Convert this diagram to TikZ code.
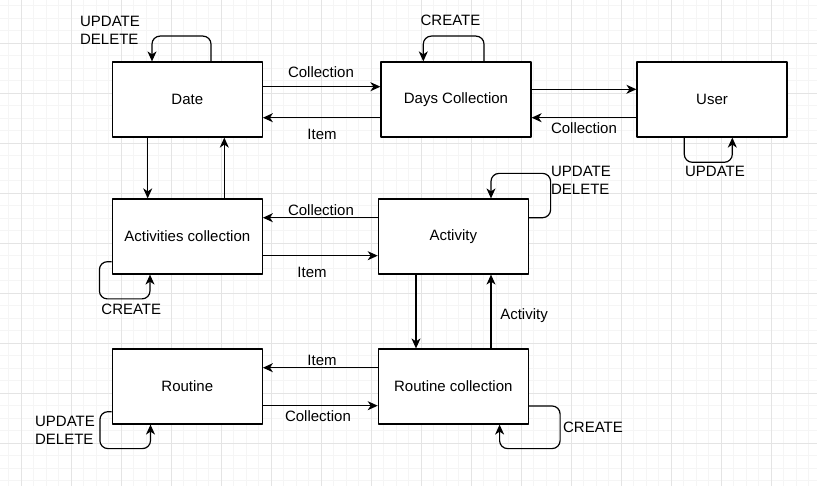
\documentclass[tikz,border=0pt]{standalone}
\usepackage{fontspec}
\setmainfont{Liberation Sans}
\usetikzlibrary{arrows.meta,calc}
\definecolor{gridminor}{HTML}{F5F5F5}
\definecolor{gridmajor}{HTML}{E4E4E4}
\tikzset{
  every picture/.style={line join=round, >={Stealth[length=10pt,width=9pt,inset=3pt]}},
  box/.style={draw, fill=white, line width=1.2pt, minimum width=150pt, minimum height=75pt, inner sep=0pt, font=\fontsize{15}{18}\selectfont},
  lbl/.style={inner sep=0pt, align=left, font=\fontsize{15}{17.5}\selectfont},
  conn/.style={->, line width=1.2pt},
  selfloop/.style={->, line width=1.2pt, rounded corners=8pt},
}

\begin{document}
\begin{tikzpicture}[x=1pt,y=-1pt]
\useasboundingbox (0,0) rectangle (817,486);
\fill[white] (0,0) rectangle (817,486);
\foreach \x in {8.5,21,...,817} \draw[gridminor,line width=1pt] (\x,0) -- (\x,486);
\foreach \y in {5.8,18.3,...,486} \draw[gridminor,line width=1pt] (0,\y) -- (817,\y);
\foreach \x in {21,71,...,817} \draw[gridmajor,line width=1pt] (\x,0) -- (\x,486);
\foreach \y in {43.3,93.3,...,486} \draw[gridmajor,line width=1pt] (0,\y) -- (817,\y);

\node[box] (date) at (187.3,99.5) {Date};
\node[box] (days) at (456,99.5) {Days Collection};
\node[box] (user) at (712,99.5) {User};
\node[box] (actcoll) at (187.3,236.5) {Activities collection};
\node[box] (activity) at (453.3,236.5) {Activity};
\node[box] (routine) at (187.3,386.5) {Routine};
\node[box] (routcoll) at (453.3,386.5) {Routine collection};

\draw[conn] ($(date.east)+(0,-12.8)$) -- ($(days.west)+(0,-12.8)$);
\draw[conn] ($(days.west)+(0,18.2)$) -- ($(date.east)+(0,18.2)$);
\draw[conn] ($(days.east)+(0,-10.2)$) -- ($(user.west)+(0,-10.2)$);
\draw[conn] ($(user.west)+(0,18.2)$) -- ($(days.east)+(0,18.2)$);
\draw[conn] ($(date.south)+(-39.6,0)$) -- ($(actcoll.north)+(-39.6,0)$);
\draw[conn] ($(actcoll.north)+(37,0)$) -- ($(date.south)+(37,0)$);
\draw[conn] ($(activity.west)+(0,-18.8)$) -- ($(actcoll.east)+(0,-18.8)$);
\draw[conn] ($(actcoll.east)+(0,19.2)$) -- ($(activity.west)+(0,19.2)$);
\draw[conn] ($(activity.south)+(-37.3,0)$) -- ($(routcoll.north)+(-37.3,0)$);
\draw[conn] ($(routcoll.north)+(37.7,0)$) -- ($(activity.south)+(37.7,0)$);
\draw[conn] ($(routcoll.west)+(0,-18.8)$) -- ($(routine.east)+(0,-18.8)$);
\draw[conn] ($(routine.east)+(0,19.2)$) -- ($(routcoll.west)+(0,19.2)$);

\draw[selfloop] ($(date.north)+(23.7,0)$) -- ++(0,-25.3) -| ($(date.north)+(-35.3,0)$);
\draw[selfloop] ($(days.north)+(28,0)$) -- ++(0,-25.3) -| ($(days.north)+(-32.7,0)$);
\draw[selfloop] ($(user.south)+(-27.7,0)$) -- ++(0,24.7) -| ($(user.south)+(20.3,0)$);
\draw[selfloop] ($(activity.east)+(0,-18.8)$) -- ++(21.7,0) |- ($(activity.north)+(37.7,-25)$) -- ($(activity.north)+(37.7,0)$);
\draw[selfloop] ($(actcoll.west)+(0,25.2)$) -- ++(-12.3,0) |- ($(actcoll.south)+(-37.3,24.3)$) -- ($(actcoll.south)+(-37.3,0)$);
\draw[selfloop] ($(routine.west)+(0,25.2)$) -- ++(-11.8,0) |- ($(routine.south)+(-36.8,24)$) -- ($(routine.south)+(-36.8,0)$);
\draw[selfloop] ($(routcoll.east)+(0,19.5)$) -- ++(31.2,0) |- ($(routcoll.south)+(46.3,24)$) -- ($(routcoll.south)+(46.3,0)$);

\node[lbl] (dateops) at (110,30.3) {UPDATE\\DELETE};
\node[lbl] (dayscreate) at (450.5,20) {CREATE};
\node[lbl] (userupd) at (715,171.3) {UPDATE};
\node[lbl] (actops) at (581,180.5) {UPDATE\\DELETE};
\node[lbl] (actcollcreate) at (131.3,309.5) {CREATE};
\node[lbl] (routops) at (65,430.5) {UPDATE\\DELETE};
\node[lbl] (routcollcreate) at (593,427.5) {CREATE};

\node[lbl] (datedays) at (321,72) {Collection};
\node[lbl] (daysdate) at (322,134) {Item};
\node[lbl] (userdays) at (584,128) {Collection};
\node[lbl] (actactcoll) at (321,209.7) {Collection};
\node[lbl] (actcollact) at (312,272) {Item};
\node[lbl] (routcollact) at (524,316) {Activity};
\node[lbl] (routcollrout) at (322,360) {Item};
\node[lbl] (routroutcoll) at (318,415.8) {Collection};
\end{tikzpicture}
\end{document}
